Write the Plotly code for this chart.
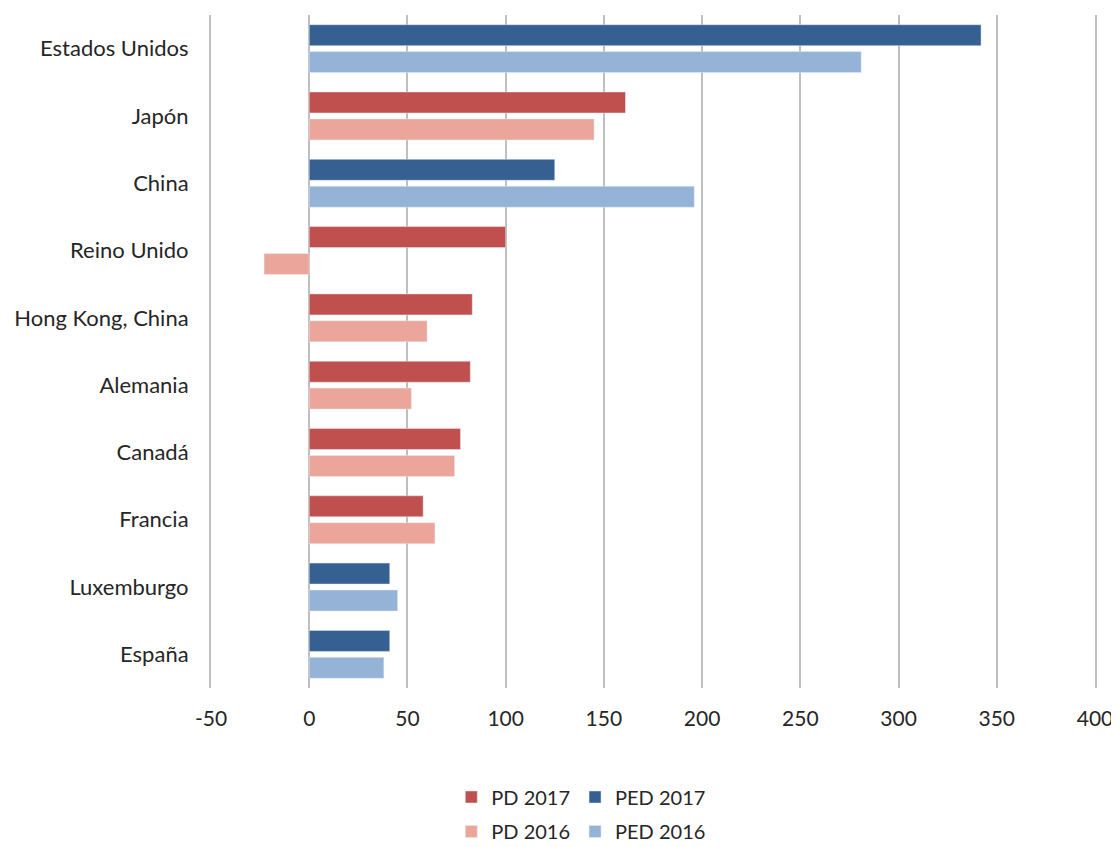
import plotly.graph_objects as go

countries = ["Estados Unidos", "Japón", "China", "Reino Unido", "Hong Kong, China",
             "Alemania", "Canadá", "Francia", "Luxemburgo", "España"]
pd_2017 = [None, 161, None, 100, 83, 82, 77, 58, None, None]
ped_2017 = [342, None, 125, None, None, None, None, None, 41, 41]
pd_2016 = [None, 145, None, -23, 60, 52, 74, 64, None, None]
ped_2016 = [281, None, 196, None, None, None, None, None, 45, 38]
x_ticks = [-50, 0, 50, 100, 150, 200, 250, 300, 350, 400]
x_tick_text = ["-50", "0", "50", "100", "150", "200", "250", "300", "350", "400"]

FONT = "Lato, 'Open Sans', sans-serif"

fig = go.Figure()
fig.add_trace(go.Bar(y=countries, x=pd_2017, orientation="h", name="PD 2017",
                     marker_color="#c0504d", offsetgroup="a", legend="legend"))
fig.add_trace(go.Bar(y=countries, x=ped_2017, orientation="h", name="PED 2017",
                     marker_color="#376092", offsetgroup="a", legend="legend"))
fig.add_trace(go.Bar(y=countries, x=pd_2016, orientation="h", name="PD 2016",
                     marker_color="#eba59a", offsetgroup="b", legend="legend2"))
fig.add_trace(go.Bar(y=countries, x=ped_2016, orientation="h", name="PED 2016",
                     marker_color="#95b3d7", offsetgroup="b", legend="legend2"))

fig.update_layout(
    width=1111, height=839,
    margin=dict(l=203, r=24, t=7, b=159, autoexpand=False),
    plot_bgcolor="white", paper_bgcolor="white",
    barmode="group", bargap=0.2, bargroupgap=0.22,
    font=dict(family=FONT, size=21, color="#262626"),
    xaxis=dict(range=[-50, 400], tickvals=x_ticks, ticktext=x_tick_text, showgrid=True,
               gridcolor="#bfbfbf", gridwidth=2, zeroline=True,
               zerolinecolor="#bfbfbf", zerolinewidth=2, showline=False,
               ticks="", ticklabelstandoff=16, automargin=False,
               tickfont=dict(size=21)),
    yaxis=dict(autorange="reversed", showgrid=False, showline=True, mirror=True,
               linecolor="#bfbfbf", linewidth=2,
               ticks="", ticklabelstandoff=16, automargin=False,
               tickfont=dict(size=22)),
    legend=dict(orientation="h", xref="container", yref="container",
                x=0.399, y=0.0596, xanchor="left", yanchor="middle",
                traceorder="normal", itemwidth=30, font=dict(size=20)),
    legend2=dict(orientation="h", xref="container", yref="container",
                 x=0.399, y=0.0185, xanchor="left", yanchor="middle",
                 traceorder="normal", itemwidth=30, font=dict(size=20)),
)

fig.write_html("out.html")
